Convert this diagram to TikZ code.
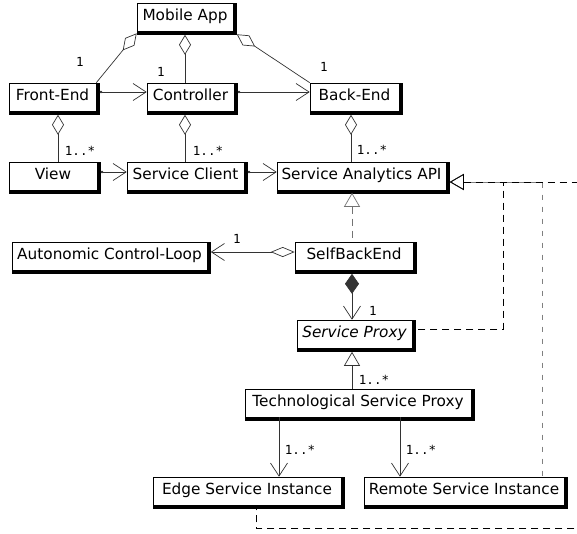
\documentclass[tikz,border=0pt]{standalone}
\usepackage{fontspec}
\setmainfont{DejaVu Sans}
\newfontfamily\lblfont{DejaVu Sans Mono}
\usetikzlibrary{arrows.meta,calc}
\begin{document}
\begin{tikzpicture}[x=1pt,y=-1pt,
  box/.style={draw=black, line width=0.6pt, fill=white, inner xsep=0pt, inner ysep=4pt,
    text height=13pt, text depth=7pt, font=\fontsize{15.3}{18}\selectfont},
  lbl/.style={font=\lblfont\fontsize{12.5}{14}\selectfont, inner sep=0pt},
  conn/.style={draw=black!80, line width=0.7pt},
  barb/.style={-{Straight Barb[length=13pt,width=17pt]}},
  dotbarb/.style={{Circle[length=2.5pt]}-{Straight Barb[length=13pt,width=17pt]}},
  agg/.style={{Diamond[open,length=20pt,width=12pt]}-},
  real/.style={conn, {Triangle[open,length=14pt,width=16pt]}-},
]
\useasboundingbox (0,0) rectangle (577,533);
\fill[white] (0,0) rectangle (577,533);
\clip (0,0) rectangle (577,533);

% classes
\node[box, minimum width=96pt]  (mob)  at (185,17)    {Mobile App};
\node[box, minimum width=87pt]  (fe)   at (52.5,97)   {Front-End};
\node[box, minimum width=87pt]  (ctrl) at (190.5,97)  {Controller};
\node[box, minimum width=89pt]  (be)   at (354.5,97)  {Back-End};
\node[box, minimum width=88pt]  (view) at (53,176)    {View};
\node[box, minimum width=117pt] (sc)   at (185.5,176) {Service Client};
\node[box, minimum width=169pt] (api)  at (361.5,176) {Service Analytics API};
\node[box, minimum width=195pt] (acl)  at (109.5,256) {Autonomic Control-Loop};
\node[box, minimum width=118pt] (sbe)  at (354,256)   {SelfBackEnd};
\node[box, minimum width=115pt] (sp)   at (354.5,334) {\itshape Service Proxy};
\node[box, minimum width=226pt] (tsp)  at (358,403)   {Technological Service Proxy};
\node[box, minimum width=188pt] (esi)  at (247,491)   {Edge Service Instance};
\node[box, minimum width=200pt] (rsi)  at (464,491)   {Remote Service Instance};

% shadows
\foreach \n in {mob,fe,ctrl,be,view,sc,api,acl,sbe,sp,tsp,esi,rsi}{
  \fill (\n.north east) rectangle ([shift={(3.5pt,-3.5pt)}]\n.south east);
  \fill (\n.south west) rectangle ([shift={(3.5pt,-3.5pt)}]\n.south east);
}

% Mobile App aggregations
\draw[conn, {Diamond[open,length=22pt,width=12pt]}-] ([yshift=-2pt]mob.south west) -- (fe.north east);
\draw[conn, agg] ([yshift=-3.5pt]mob.south) -- (mob.south |- ctrl.north);
\draw[conn, {Diamond[open,length=22pt,width=12pt]}-] ([shift={(3.5pt,-3pt)}]mob.south east) -- (be.north west);

% row 2 associations
\draw[conn, dotbarb] ([shift={(3.5pt,5pt)}]fe.east) -- ([yshift=5pt]ctrl.west);
\draw[conn, dotbarb] ([shift={(3.5pt,5pt)}]ctrl.east) -- ([yshift=5pt]be.west);

% aggregations down
\coordinate (fx) at ([xshift=5.5pt]fe.south);
\coordinate (cx) at ([xshift=-5.5pt]ctrl.south);
\coordinate (bx) at ([xshift=-3.5pt]be.south);
\draw[conn, agg] ($(fx)+(0,3.5)$) -- (fx |- view.north);
\draw[conn, agg] ($(cx)+(0,3.5)$) -- (cx |- sc.north);
\draw[conn, agg] ($(bx)+(0,3.5)$) -- (bx |- api.north);

% row 3 associations
\draw[conn, dotbarb] ([shift={(3.5pt,4pt)}]view.east) -- ([yshift=4pt]sc.west);
\draw[conn, dotbarb] ([shift={(3.5pt,4pt)}]sc.east) -- ([yshift=4pt]api.west);

% central column
\coordinate (vx) at ([xshift=-2pt]sbe.north);
\draw[real, draw=black!55, dash pattern=on 7pt off 5pt] ($(vx |- api.south)+(0,2.5)$) -- (vx);
\draw[conn, {Diamond[open,length=24pt,width=10pt]}-{Straight Barb[length=13pt,width=17pt]}]
  ([yshift=4pt]sbe.west) -- ([shift={(3.5pt,4pt)}]acl.east);
\draw[conn, {Diamond[length=20pt,width=14pt]}-{Straight Barb[length=13pt,width=17pt]}]
  ($(vx |- sbe.south)+(0,3.5)$) -- (vx |- sp.north);
\draw[real] ($(vx |- sp.south)+(0,3.5)$) -- (vx |- tsp.north);

% technological proxy to instances
\coordinate (ex) at ([xshift=-79pt]tsp.south);
\coordinate (rx) at ([xshift=42pt]tsp.south);
\draw[conn, barb] (ex) -- (ex |- esi.north);
\draw[conn, barb] (rx) -- (rx |- rsi.north);

% realizations into Service Analytics API
\coordinate (apiR) at ([shift={(3.5pt,-6pt)}]api.east);
\coordinate (k1) at (503,0);
\coordinate (k2) at (542,0);
\coordinate (k3) at (592,528);
\coordinate (spE) at ([shift={(3.5pt,5pt)}]sp.east);
\coordinate (esB) at ([shift={(9pt,-3.5pt)}]esi.south);
\draw[real, draw=black, dash pattern=on 7pt off 5pt] (apiR) -- (apiR -| k1) -- (k1 |- spE) -- (spE);
\draw[real, draw=black!50, dash pattern=on 5pt off 7pt, dash phase=5pt] (apiR) -- (apiR -| k2) -- (k2 |- rsi.north);
\draw[real, draw=black, dash pattern=on 7pt off 5pt] (apiR) -- (apiR -| k3) -- (k3) -- (k3 -| esB) -- (esB);

% multiplicities
\node[lbl] (m1) at (80,62)  {1};
\node[lbl] (m2) at (161,72) {1};
\node[lbl] (m3) at (324,67) {1};
\node[lbl] (m4) at (80,151) {1..*};
\node[lbl] (m5) at (208,151) {1..*};
\node[lbl] (m6) at (372,150) {1..*};
\node[lbl] (m7) at (237,239) {1};
\node[lbl] (m8) at (373,311) {1};
\node[lbl] (m9) at (374,380) {1..*};
\node[lbl] (m10) at (300,450) {1..*};
\node[lbl] (m11) at (421,450) {1..*};
\end{tikzpicture}
\end{document}
